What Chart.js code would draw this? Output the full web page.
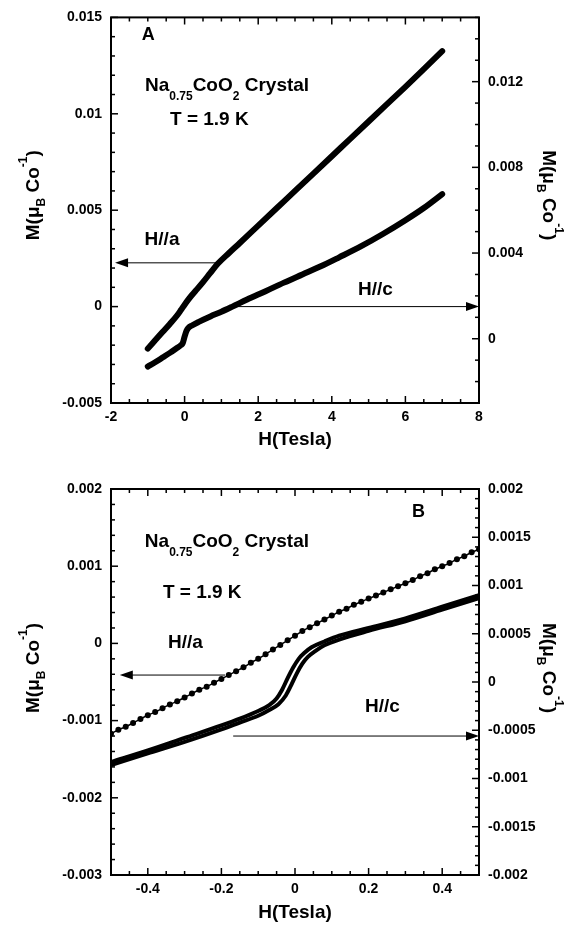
<!DOCTYPE html>
<html>
<head>
<meta charset="utf-8">
<script src="https://cdn.jsdelivr.net/npm/chart.js@4.4.1/dist/chart.umd.min.js"></script>
<style>
  body { margin: 0; background: #fff; }
  .panel { position: absolute; left: 0; width: 564px; }
</style>
</head>
<body>
<div class="panel" style="top:0;height:462px"><canvas id="chartA" width="564" height="462"></canvas></div>
<div class="panel" style="top:462px;height:463px"><canvas id="chartB" width="564" height="463"></canvas></div>
<script>
// --- Panel A: full field sweep, -1 .. 7 T ---
const aFieldA = [-1, -0.8, -0.6, -0.4, -0.2, -0.1, 0, 0.1, 0.2, 0.3, 0.5, 0.7, 0.9, 1.2, 1.5, 2, 2.5, 3, 3.5, 4, 4.5, 5, 5.5, 6, 6.5, 7];
const aMomentA = [-0.00218, -0.00175, -0.00132, -0.0009, -0.00045, -0.00018, 0.0001, 0.00036, 0.0006, 0.00082, 0.00127, 0.00175, 0.00222, 0.00277, 0.0033, 0.0042, 0.0051, 0.006, 0.0069, 0.0078, 0.0087, 0.0096, 0.0105, 0.0114, 0.01232, 0.01325];
const cFieldA = [-1, -0.8, -0.6, -0.4, -0.2, -0.1, -0.05, 0, 0.05, 0.1, 0.2, 0.4, 0.7, 1, 1.3, 1.7, 2.2, 2.7, 3.2, 3.7, 4.2, 4.8, 5.4, 6, 6.5, 7];
const cMomentA = [-0.0013, -0.0011, -0.00088, -0.00066, -0.00042, -0.0003, -0.0002, 0.0001, 0.00036, 0.0005, 0.00062, 0.0008, 0.00104, 0.00126, 0.0015, 0.00183, 0.00222, 0.00262, 0.003, 0.00338, 0.0038, 0.00432, 0.0049, 0.00553, 0.0061, 0.00675];

// --- Panel B: low field loop, -0.5 .. 0.5 T ---
const aFieldB = [-0.5, -0.48, -0.46, -0.44, -0.42, -0.4, -0.38, -0.36, -0.34, -0.32, -0.3, -0.28, -0.26, -0.24, -0.22, -0.2, -0.18, -0.16, -0.14, -0.12, -0.1, -0.08, -0.06, -0.04, -0.02, 0,
                 0.02, 0.04, 0.06, 0.08, 0.1, 0.12, 0.14, 0.16, 0.18, 0.2, 0.22, 0.24, 0.26, 0.28, 0.3, 0.32, 0.34, 0.36, 0.38, 0.4, 0.42, 0.44, 0.46, 0.48, 0.5];
const aMomentB = [-0.00117, -0.00112, -0.00108, -0.00103, -0.00098, -0.00093, -0.00089, -0.00084, -0.00079, -0.00075, -0.0007, -0.00065, -0.0006, -0.00056, -0.00051, -0.00046, -0.00041, -0.00036, -0.00031, -0.00025, -0.0002, -0.00014, -0.00008, -0.00002, 0.00004, 0.0001,
                  0.00016, 0.00021, 0.00026, 0.00031, 0.00036, 0.00041, 0.00045, 0.0005, 0.00054, 0.00058, 0.00062, 0.00066, 0.0007, 0.00074, 0.00078, 0.00082, 0.00087, 0.00091, 0.00096, 0.001, 0.00104, 0.00109, 0.00113, 0.00118, 0.00122];
const cDownFieldB = [-0.5, -0.4, -0.3, -0.2, -0.15, -0.1, -0.07, -0.05, -0.035, -0.02, -0.005, 0.01, 0.025, 0.045, 0.08, 0.12, 0.2, 0.3, 0.4, 0.5];
const cDownMomentB = [-0.00083, -0.00071, -0.00058, -0.00045, -0.00038, -0.0003, -0.00024, -0.00017, -0.00008, 0.00004, 0.00015, 0.00024, 0.0003, 0.00036, 0.00042, 0.00048, 0.00056, 0.00066, 0.00078, 0.0009];
const cUpFieldB = [-0.5, -0.4, -0.3, -0.2, -0.15, -0.1, -0.07, -0.045, -0.025, -0.01, 0.005, 0.02, 0.035, 0.055, 0.08, 0.12, 0.2, 0.3, 0.4, 0.5];
const cUpMomentB = [-0.00086, -0.00074, -0.00062, -0.00049, -0.00042, -0.00035, -0.00029, -0.00023, -0.00014, -0.00003, 0.00009, 0.00019, 0.00026, 0.00032, 0.00038, 0.00044, 0.00053, 0.00063, 0.00075, 0.00087];

// tick labels
const xTicksA = [-2, 0, 2, 4, 6, 8];
const leftTicksA = [-0.005, 0, 0.005, 0.01, 0.015];
const rightTicksA = [0, 0.004, 0.008, 0.012];
const xTicksB = [-0.4, -0.2, 0, 0.2, 0.4];
const leftTicksB = [-0.003, -0.002, -0.001, 0, 0.001, 0.002];
const rightTicksB = [-0.002, -0.0015, -0.001, -0.0005, 0, 0.0005, 0.001, 0.0015, 0.002];

const FONT = '"Liberation Sans", Arial, sans-serif';
Chart.defaults.font.family = FONT;
Chart.defaults.font.weight = 'bold';
Chart.defaults.color = '#000';

const tickFont = { size: 14, weight: 'bold' };
const yTitleParts = [['M(\u03bc', 19, 0], ['B', 12, 6], [' Co', 19, 0], ['-1', 12, -12], [')', 19, 0]];
const formulaParts = [['Na', 19, 0], ['0.75', 12, 9], ['CoO', 19, 0], ['2', 12, 9], [' Crystal', 19, 0]];

function toPoints(xs, ys) {
    return xs.map((x, i) => ({ x: x, y: ys[i] }));
}

function makeTicks(min, max, step, labeled) {
    return function(scale) {
        const ticks = [];
        const n = Math.round((max - min) / step);
        for (let i = 0; i <= n; i++) {
            const v = Number((min + i * step).toFixed(8));
            ticks.push({ value: v, major: labeled.some(l => Math.abs(l - v) < step / 10) });
        }
        scale.ticks = ticks;
    };
}

function labelFor(labeled, step) {
    return function(value) {
        const hit = labeled.find(l => Math.abs(l - value) < step / 10);
        return hit === undefined ? '' : String(hit);
    };
}

function axisX(min, max, step, labeled, height) {
    return {
        type: 'linear', position: 'bottom', min: min, max: max,
        afterBuildTicks: makeTicks(min, max, step, labeled),
        afterFit: s => { s.height = height; },
        grid: { display: false, drawTicks: false }, border: { display: false },
        ticks: { autoSkip: false, maxRotation: 0, padding: 6, font: tickFont, callback: labelFor(labeled, step) },
        title: { display: true, text: 'H(Tesla)', font: { size: 19, weight: 'bold', lineHeight: 1 }, padding: 0 }
    };
}

function axisY(position, min, max, step, labeled, width) {
    return {
        type: 'linear', position: position, min: min, max: max,
        afterBuildTicks: makeTicks(min, max, step, labeled),
        afterFit: s => { s.width = width; },
        grid: { display: false, drawTicks: false }, border: { display: false },
        ticks: { autoSkip: false, padding: 9, font: tickFont, callback: labelFor(labeled, step) }
    };
}

function drawRich(ctx, x, y, parts, align) {
    let w = 0;
    parts.forEach(p => { ctx.font = 'bold ' + p[1] + 'px ' + FONT; w += ctx.measureText(p[0]).width; });
    let cx = align === 'center' ? x - w / 2 : x;
    parts.forEach(p => {
        ctx.font = 'bold ' + p[1] + 'px ' + FONT;
        ctx.fillText(p[0], cx, y + p[2]);
        cx += ctx.measureText(p[0]).width;
    });
}

// frame, inward ticks, arrows, text
const decorPlugin = {
    id: 'decor',
    afterDatasetsDraw(chart, args, opts) {
        const ctx = chart.ctx, area = chart.chartArea;
        ctx.save();
        ctx.strokeStyle = '#000';
        ctx.fillStyle = '#000';
        ctx.lineWidth = 2;
        ctx.strokeRect(area.left, area.top, area.right - area.left, area.bottom - area.top);

        ctx.lineWidth = 1.5;
        ['x', 'y', 'y2'].forEach(id => {
            const s = chart.scales[id];
            s.ticks.forEach(t => {
                const p = s.getPixelForValue(t.value);
                const len = t.major ? 7 : 4;
                ctx.beginPath();
                if (id === 'x') {
                    ctx.moveTo(p, area.bottom); ctx.lineTo(p, area.bottom - len);
                    ctx.moveTo(p, area.top); ctx.lineTo(p, area.top + len);
                } else if (id === 'y') {
                    ctx.moveTo(area.left, p); ctx.lineTo(area.left + len, p);
                } else {
                    ctx.moveTo(area.right, p); ctx.lineTo(area.right - len, p);
                }
                ctx.stroke();
            });
        });

        ctx.lineWidth = 1;
        opts.arrows.forEach(a => {
            const ys = chart.scales[a.axis];
            const x1 = chart.scales.x.getPixelForValue(a.from);
            const x2 = chart.scales.x.getPixelForValue(a.to);
            const py = ys.getPixelForValue(a.y);
            const dir = x2 > x1 ? 1 : -1;
            ctx.beginPath();
            ctx.moveTo(x1, py); ctx.lineTo(x2 - dir * 10, py);
            ctx.stroke();
            ctx.beginPath();
            ctx.moveTo(x2, py);
            ctx.lineTo(x2 - dir * 13, py - 4.5);
            ctx.lineTo(x2 - dir * 13, py + 4.5);
            ctx.closePath();
            ctx.fill();
        });

        ctx.textBaseline = 'alphabetic';
        opts.labels.forEach(l => {
            const px = chart.scales.x.getPixelForValue(l.x);
            const py = chart.scales.y.getPixelForValue(l.y);
            drawRich(ctx, px, py, l.parts, 'left');
        });

        const mid = (area.top + area.bottom) / 2;
        ctx.save();
        ctx.translate(opts.leftTitleX, mid + opts.titleShift);
        ctx.rotate(-Math.PI / 2);
        drawRich(ctx, 0, 7, yTitleParts, 'center');
        ctx.restore();
        ctx.save();
        ctx.translate(opts.rightTitleX, mid + opts.titleShift);
        ctx.rotate(Math.PI / 2);
        drawRich(ctx, 0, 7, yTitleParts, 'center');
        ctx.restore();

        ctx.restore();
    }
};

function lineSet(label, pts, axis, width) {
    return {
        label: label, data: pts, yAxisID: axis,
        borderColor: '#000', backgroundColor: '#000',
        borderWidth: width, pointRadius: 0,
        borderCapStyle: 'round', borderJoinStyle: 'round',
        cubicInterpolationMode: 'monotone'
    };
}

// --- CHART A ---
new Chart(document.getElementById('chartA'), {
    type: 'line',
    data: {
        datasets: [
            lineSet('H//a', toPoints(aFieldA, aMomentA), 'y', 6),
            lineSet('H//c', toPoints(cFieldA, cMomentA), 'y2', 6)
        ]
    },
    options: {
        responsive: false,
        animation: false,
        layout: { padding: { top: 17, bottom: 13, left: 0, right: 0 } },
        plugins: {
            legend: { display: false },
            tooltip: { enabled: false },
            decor: {
                arrows: [
                    { from: 0.87, to: -1.89, y: 0.00227, axis: 'y' },
                    { from: 1.37, to: 8, y: 0.0015, axis: 'y2' }
                ],
                labels: [
                    { x: -1.166, y: 0.01381, parts: [['A', 18, 0]] },
                    { x: -1.076, y: 0.01118, parts: formulaParts },
                    { x: -0.397, y: 0.0094, parts: [['T = 1.9 K', 19, 0]] },
                    { x: -1.087, y: 0.00319, parts: [['H//a', 19, 0]] },
                    { x: 4.71, y: 0.0006, parts: [['H//c', 19, 0]] }
                ],
                leftTitleX: 32, rightTitleX: 550, titleShift: -15
            }
        },
        scales: {
            x: axisX(-2, 8, 0.5, xTicksA, 46),
            y: axisY('left', -0.005, 0.015, 0.001, leftTicksA, 111),
            y2: axisY('right', -0.003, 0.015, 0.001, rightTicksA, 85)
        }
    },
    plugins: [decorPlugin]
});

// --- CHART B ---
new Chart(document.getElementById('chartB'), {
    type: 'line',
    data: {
        datasets: [
            Object.assign(lineSet('H//a', toPoints(aFieldB, aMomentB), 'y', 1.5), { pointRadius: 3, pointBorderWidth: 0 }),
            lineSet('H//c down', toPoints(cDownFieldB, cDownMomentB), 'y2', 4),
            lineSet('H//c up', toPoints(cUpFieldB, cUpMomentB), 'y2', 4)
        ]
    },
    options: {
        responsive: false,
        animation: false,
        layout: { padding: { top: 27, bottom: 3, left: 0, right: 0 } },
        plugins: {
            legend: { display: false },
            tooltip: { enabled: false },
            decor: {
                arrows: [
                    { from: -0.19, to: -0.476, y: -0.00041, axis: 'y' },
                    { from: -0.168, to: 0.5, y: -0.00056, axis: 'y2' }
                ],
                labels: [
                    { x: 0.318, y: 0.001637, parts: [['B', 18, 0]] },
                    { x: -0.408, y: 0.001253, parts: formulaParts },
                    { x: -0.359, y: 0.000588, parts: [['T = 1.9 K', 19, 0]] },
                    { x: -0.345, y: -0.00006, parts: [['H//a', 19, 0]] },
                    { x: 0.19, y: -0.000889, parts: [['H//c', 19, 0]] }
                ],
                leftTitleX: 32, rightTitleX: 550, titleShift: -14
            }
        },
        scales: {
            x: axisX(-0.5, 0.5, 0.05, xTicksB, 47),
            y: axisY('left', -0.003, 0.002, 0.0002, leftTicksB, 111),
            y2: axisY('right', -0.002, 0.002, 0.0001, rightTicksB, 85)
        }
    },
    plugins: [decorPlugin]
});
</script>
</body>
</html>
